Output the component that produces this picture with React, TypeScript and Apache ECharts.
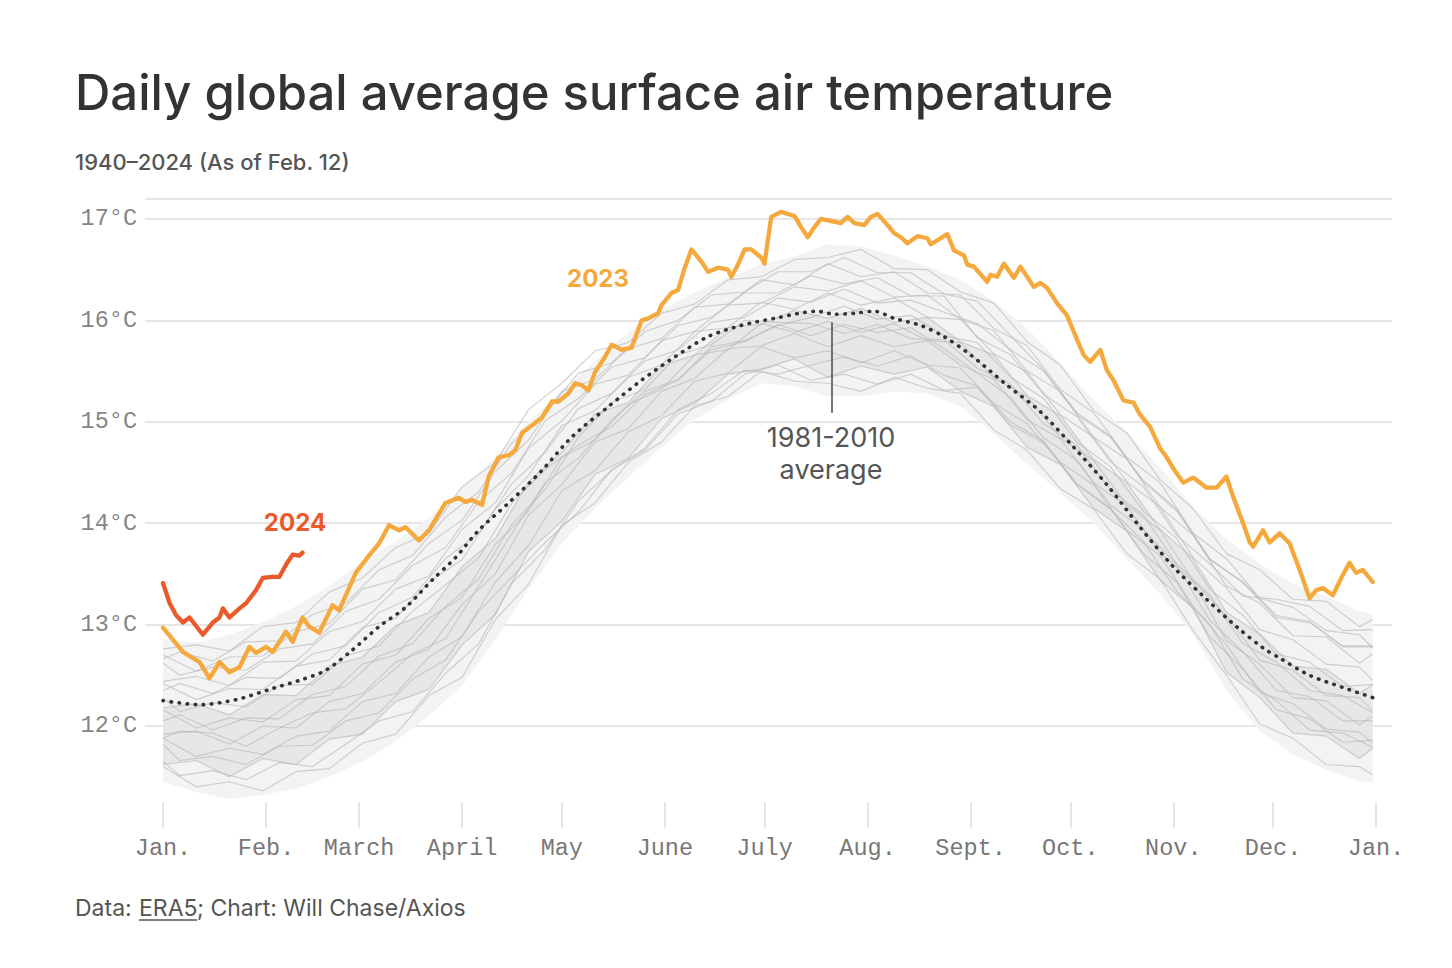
import React, { useEffect, useRef } from "react";
import * as echarts from "echarts";

// ---------- axis data ----------
const monthTickDays = [0, 31, 59, 90, 120, 151, 181, 212, 243, 273, 304, 334, 365];
const monthLabels = ["Jan.", "Feb.", "March", "April", "May", "June", "July", "Aug.", "Sept.", "Oct.", "Nov.", "Dec.", "Jan."];

// ---------- 2024 (day of year, °C) ----------
const year2024: [number, number][] = [
  [0, 13.41], [2, 13.21], [4, 13.09], [6, 13.02], [8, 13.07], [12, 12.9], [15, 13.02], [17, 13.07],
  [18, 13.16], [20, 13.07], [23, 13.16], [25, 13.21], [28, 13.34], [30, 13.46], [33, 13.47], [35, 13.47],
  [37, 13.59], [39, 13.69], [41, 13.68], [42, 13.71],
];

// ---------- 2023 ----------
const year2023: [number, number][] = [
  [0, 12.97], [3, 12.85], [6, 12.73], [11, 12.63], [14, 12.47], [17, 12.63], [20, 12.53], [23, 12.58],
  [26, 12.78], [28, 12.72], [31, 12.78], [33, 12.73], [37, 12.93], [39, 12.83], [42, 13.07], [44, 12.98],
  [47, 12.92], [51, 13.19], [53, 13.14], [58, 13.51], [61, 13.64], [65, 13.8], [68, 13.98], [71, 13.93],
  [73, 13.96], [77, 13.83], [80, 13.93], [85, 14.2], [89, 14.25], [91, 14.21], [93, 14.23], [96, 14.18],
  [98, 14.46], [101, 14.65], [104, 14.67], [106, 14.72], [108, 14.89], [110, 14.94], [114, 15.04], [117, 15.2],
  [119, 15.2], [122, 15.28], [124, 15.38], [126, 15.36], [128, 15.31], [130, 15.49], [133, 15.64], [135, 15.76],
  [138, 15.71], [141, 15.73], [144, 16.0], [146, 16.02], [149, 16.07], [150, 16.15], [153, 16.27], [155, 16.3],
  [157, 16.52], [159, 16.7], [162, 16.58], [164, 16.48], [167, 16.52], [170, 16.5], [171, 16.43], [173, 16.55],
  [175, 16.7], [177, 16.7], [180, 16.62], [181, 16.56], [183, 17.02], [186, 17.07], [190, 17.03], [192, 16.92],
  [194, 16.82], [196, 16.92], [198, 17.0], [204, 16.96], [206, 17.02], [208, 16.96], [211, 16.94], [213, 17.02],
  [215, 17.05], [218, 16.94], [220, 16.86], [222, 16.82], [224, 16.76], [227, 16.83], [230, 16.81], [231, 16.75],
  [233, 16.79], [236, 16.85], [238, 16.69], [241, 16.64], [242, 16.55], [244, 16.53], [248, 16.38], [249, 16.45],
  [251, 16.43], [253, 16.56], [256, 16.42], [258, 16.53], [262, 16.33], [264, 16.37], [266, 16.32], [269, 16.17],
  [272, 16.05], [274, 15.89], [277, 15.66], [279, 15.59], [282, 15.71], [284, 15.51], [286, 15.41], [289, 15.21],
  [292, 15.19], [294, 15.07], [297, 14.95], [300, 14.74], [302, 14.65], [304, 14.54], [307, 14.4], [310, 14.45],
  [314, 14.35], [317, 14.35], [320, 14.46], [322, 14.26], [325, 14.0], [327, 13.81], [328, 13.77], [331, 13.93],
  [333, 13.81], [336, 13.9], [339, 13.8], [342, 13.54], [345, 13.26], [347, 13.34], [349, 13.36], [352, 13.29],
  [355, 13.49], [357, 13.61], [359, 13.51], [361, 13.54], [364, 13.42],
];

// ---------- 1981-2010 average ----------
const average8110: [number, number][] = [
  [0, 12.25], [11, 12.21], [22, 12.26], [33, 12.37], [42, 12.46], [49, 12.55], [57, 12.75], [65, 12.98],
  [73, 13.17], [81, 13.44], [88, 13.66], [95, 13.93], [104, 14.2], [114, 14.52], [123, 14.85], [134, 15.15],
  [144, 15.41], [154, 15.64], [164, 15.84], [174, 15.95], [184, 16.02], [197, 16.09], [202, 16.06], [208, 16.07],
  [214, 16.09], [220, 16.02], [228, 15.95], [235, 15.84], [243, 15.66], [254, 15.36], [264, 15.1], [274, 14.75],
  [284, 14.38], [294, 13.96], [304, 13.57], [314, 13.25], [323, 12.98], [331, 12.77], [336, 12.67], [345, 12.5],
  [355, 12.38], [364, 12.28],
];

// ---------- 1940-2022 gray years (estimated, coarse day grids) ----------
const grayDays = [0, 10, 20, 30, 40, 50, 60, 70, 80, 90, 100, 110, 120, 130, 140, 150, 160, 170, 180, 190, 200, 210, 220, 230, 240, 250, 260, 270, 280, 290, 300, 310, 320, 330, 340, 350, 360, 364];
const grayDaysB = [0, 5, 15, 25, 35, 45, 55, 65, 75, 85, 95, 105, 115, 125, 135, 145, 155, 165, 175, 185, 195, 205, 215, 225, 235, 245, 255, 265, 275, 285, 295, 305, 315, 325, 335, 345, 355, 364];
const bandLow = [11.45, 11.35, 11.28, 11.32, 11.38, 11.5, 11.65, 11.85, 12.1, 12.4, 12.85, 13.35, 13.8, 14.15, 14.45, 14.75, 15.02, 15.22, 15.38, 15.35, 15.25, 15.25, 15.3, 15.28, 15.15, 14.88, 14.58, 14.3, 14.0, 13.65, 13.3, 12.9, 12.35, 11.95, 11.72, 11.57, 11.45, 11.45];
const bandHigh = [12.85, 12.82, 12.9, 13.02, 13.18, 13.38, 13.62, 13.82, 14.05, 14.35, 14.65, 15.0, 15.3, 15.6, 15.88, 16.1, 16.28, 16.42, 16.55, 16.63, 16.75, 16.73, 16.64, 16.53, 16.4, 16.19, 15.92, 15.58, 15.22, 14.9, 14.55, 14.16, 13.84, 13.6, 13.4, 13.28, 13.13, 13.1];

const grayA = [11.6, 11.4, 11.45, 11.36, 11.55, 11.58, 11.83, 11.92, 12.3, 12.48, 13.05, 13.4, 13.98, 14.2, 14.6, 14.8, 15.16, 15.25, 15.5, 15.4, 15.38, 15.3, 15.44, 15.33, 15.28, 14.92, 14.72, 14.34, 14.14, 13.7, 13.45, 12.94, 12.5, 12.02, 11.88, 11.62, 11.6, 11.52];
const grayB = [11.62, 11.66, 11.5, 11.68, 11.62, 11.87, 11.92, 12.24, 12.36, 12.8, 13.1, 13.72, 14.02, 14.48, 14.64, 15.03, 15.18, 15.47, 15.52, 15.62, 15.44, 15.55, 15.47, 15.54, 15.3, 15.15, 14.75, 14.58, 14.15, 13.92, 13.44, 13.16, 12.53, 12.28, 11.93, 11.9, 11.68, 11.78];
const grayC = [11.88, 11.7, 11.78, 11.72, 11.9, 11.95, 12.24, 12.32, 12.68, 12.88, 13.42, 13.78, 14.32, 14.52, 14.9, 15.06, 15.4, 15.48, 15.74, 15.63, 15.7, 15.58, 15.7, 15.56, 15.53, 15.18, 14.98, 14.6, 14.38, 13.93, 13.68, 13.18, 12.8, 12.33, 12.22, 11.97, 11.94, 11.83];
const grayD = [11.92, 11.95, 11.82, 12.0, 11.98, 12.24, 12.32, 12.63, 12.76, 13.2, 13.5, 14.08, 14.38, 14.8, 14.93, 15.3, 15.43, 15.72, 15.75, 15.87, 15.74, 15.85, 15.74, 15.8, 15.56, 15.42, 15.02, 14.83, 14.4, 14.17, 13.71, 13.42, 12.84, 12.61, 12.28, 12.25, 12.01, 12.1];
const grayE = [12.16, 11.98, 12.08, 12.04, 12.26, 12.3, 12.61, 12.7, 13.06, 13.27, 13.79, 14.12, 14.65, 14.82, 15.17, 15.32, 15.66, 15.71, 15.97, 15.88, 15.99, 15.88, 15.97, 15.8, 15.78, 15.43, 15.25, 14.84, 14.62, 14.18, 13.93, 13.43, 13.09, 12.65, 12.55, 12.3, 12.28, 12.15];
const grayF = [12.18, 12.22, 12.11, 12.31, 12.3, 12.59, 12.68, 12.99, 13.12, 13.57, 13.85, 14.41, 14.7, 15.08, 15.19, 15.55, 15.66, 15.93, 15.96, 16.1, 16.02, 16.12, 15.98, 16.03, 15.79, 15.66, 15.26, 15.06, 14.63, 14.4, 13.94, 13.65, 13.12, 12.91, 12.59, 12.56, 12.32, 12.41];
const grayG = [12.42, 12.26, 12.37, 12.36, 12.59, 12.65, 12.97, 13.06, 13.42, 13.64, 14.14, 14.47, 14.96, 15.11, 15.44, 15.56, 15.89, 15.93, 16.18, 16.11, 16.27, 16.15, 16.22, 16.03, 16.01, 15.67, 15.49, 15.07, 14.85, 14.41, 14.16, 13.66, 13.36, 12.95, 12.85, 12.61, 12.58, 12.45];
const grayH = [12.44, 12.49, 12.4, 12.63, 12.64, 12.93, 13.03, 13.35, 13.48, 13.94, 14.2, 14.74, 15.01, 15.37, 15.46, 15.8, 15.89, 16.15, 16.17, 16.33, 16.29, 16.39, 16.23, 16.25, 16.01, 15.9, 15.5, 15.3, 14.85, 14.63, 14.16, 13.88, 13.38, 13.21, 12.89, 12.88, 12.62, 12.71];
const grayI = [12.7, 12.54, 12.68, 12.69, 12.93, 13.01, 13.35, 13.44, 13.8, 14.03, 14.51, 14.82, 15.3, 15.42, 15.72, 15.82, 16.13, 16.16, 16.4, 16.35, 16.56, 16.43, 16.48, 16.27, 16.25, 15.92, 15.75, 15.32, 15.09, 14.65, 14.4, 13.9, 13.65, 13.26, 13.17, 12.94, 12.9, 12.77];
const grayJ = [12.76, 12.8, 12.74, 12.98, 13.02, 13.32, 13.46, 13.76, 13.9, 14.36, 14.6, 15.12, 15.38, 15.7, 15.78, 16.07, 16.16, 16.4, 16.43, 16.6, 16.62, 16.7, 16.51, 16.5, 16.28, 16.17, 15.79, 15.56, 15.11, 14.89, 14.43, 14.14, 13.7, 13.54, 13.25, 13.23, 12.98, 13.05];

const grayK = [11.65, 11.51, 11.56, 11.47, 11.64, 11.6, 11.82, 12.05, 12.14, 12.52, 12.81, 13.41, 13.74, 14.22, 14.52, 14.74, 15.12, 15.28, 15.51, 15.47, 15.56, 15.64, 15.55, 15.65, 15.46, 15.35, 15.0, 14.81, 14.38, 14.14, 13.82, 13.33, 13.0, 12.46, 12.25, 11.96, 11.93, 11.79];
const grayL = [11.88, 11.95, 11.93, 11.8, 11.98, 12.13, 12.17, 12.43, 12.71, 12.86, 13.38, 13.9, 14.4, 14.64, 15.02, 15.3, 15.42, 15.71, 15.79, 15.96, 15.85, 15.96, 15.88, 15.93, 15.72, 15.48, 15.24, 14.84, 14.62, 14.18, 13.94, 13.59, 13.04, 12.73, 12.35, 12.29, 12.05, 12.05];
const grayM = [12.28, 12.14, 12.23, 12.19, 12.4, 12.41, 12.69, 12.79, 13.13, 13.39, 13.66, 14.2, 14.53, 14.77, 14.95, 15.27, 15.41, 15.74, 15.8, 15.95, 16.03, 16.14, 16.01, 16.05, 15.85, 15.78, 15.44, 15.23, 14.8, 14.56, 14.12, 13.85, 13.35, 13.09, 12.71, 12.63, 12.39, 12.41];
const grayN = [12.35, 12.42, 12.32, 12.48, 12.47, 12.71, 12.79, 13.12, 13.27, 13.65, 13.9, 14.39, 14.7, 15.13, 15.28, 15.6, 15.71, 15.98, 16.03, 16.22, 16.18, 16.31, 16.17, 16.2, 16.08, 15.97, 15.71, 15.5, 15.07, 14.85, 14.42, 14.14, 13.65, 13.41, 13.07, 13.02, 12.79, 12.79];
const grayO = [12.62, 12.5, 12.58, 12.55, 12.76, 12.81, 13.13, 13.25, 13.58, 13.76, 14.21, 14.5, 15.01, 15.23, 15.54, 15.63, 15.95, 16.03, 16.27, 16.27, 16.44, 16.36, 16.42, 16.24, 16.24, 15.83, 15.66, 15.27, 15.05, 14.61, 14.36, 13.88, 13.6, 13.28, 13.25, 13.18, 12.94, 12.95];
const grayP = [12.66, 12.73, 12.64, 12.83, 12.84, 13.1, 13.21, 13.54, 13.68, 14.06, 14.31, 14.79, 15.09, 15.48, 15.58, 15.89, 16.0, 16.25, 16.28, 16.48, 16.48, 16.62, 16.47, 16.47, 16.26, 16.19, 15.85, 15.51, 15.09, 14.86, 14.41, 14.12, 13.64, 13.42, 13.09, 13.03, 12.78, 12.78];
const grayQ = [11.82, 11.66, 11.7, 11.62, 11.8, 11.81, 12.05, 12.13, 12.46, 12.65, 13.13, 13.47, 13.81, 14.11, 14.53, 14.72, 15.08, 15.2, 15.47, 15.56, 15.41, 15.47, 15.37, 15.47, 15.31, 15.34, 14.97, 14.79, 14.39, 14.15, 13.7, 13.42, 12.88, 12.56, 12.16, 12.07, 11.84, 11.86];
const grayR = [12.05, 12.11, 11.96, 12.08, 12.07, 12.31, 12.39, 12.69, 12.81, 13.18, 13.45, 13.99, 14.33, 14.85, 15.19, 15.32, 15.66, 15.76, 16.0, 15.98, 15.97, 15.87, 15.96, 15.82, 15.81, 15.53, 15.37, 14.98, 14.77, 14.33, 14.08, 13.6, 13.29, 12.81, 12.63, 12.35, 12.3, 12.13];

const grayYearsOnGridA = [grayA, grayB, grayC, grayD, grayE, grayF, grayG, grayH, grayI, grayJ];
const grayYearsOnGridB = [grayK, grayL, grayM, grayN, grayO, grayP, grayQ, grayR];

// ---------- colours ----------
const C2023 = "#F5A83B";
const C2024 = "#EA5A2A";
const SANS = "Inter, 'Noto Sans', sans-serif";
const MONO = "'Liberation Mono', 'DejaVu Sans Mono', monospace";

export default function App() {
  const ref = useRef<HTMLDivElement>(null);

  useEffect(() => {
    if (!ref.current) return;
    const chart = echarts.init(ref.current, null, { renderer: "svg" });

    const mkGray = (days: number[], vals: number[]) => ({
      type: "line",
      data: days.map((d, i) => [d, vals[i]]),
      symbol: "none",
      silent: true,
      z: 3,
      lineStyle: { color: "#b9b9b9", width: 1.15, opacity: 0.65 },
    });

    const graySeries = [
      ...grayYearsOnGridA.map((v) => mkGray(grayDays, v)),
      ...grayYearsOnGridB.map((v) => mkGray(grayDaysB, v)),
    ];

    const polygonSeries = (lowVals: number[], highVals: number[], fill: string, z: number) => ({
      type: "custom",
      silent: true,
      z,
      data: [[0, 12]],
      renderItem: (_params: any, api: any) => {
        const pts: number[][] = [];
        grayDays.forEach((d, i) => pts.push(api.coord([d, highVals[i]])));
        for (let i = grayDays.length - 1; i >= 0; i--) pts.push(api.coord([grayDays[i], lowVals[i]]));
        return { type: "polygon", shape: { points: pts }, style: { fill } };
      },
    });

    const option: any = {
      animation: false,
      backgroundColor: "#ffffff",
      grid: { left: 145, right: 60, top: 198.7, bottom: 140.6, containLabel: false, outerBoundsMode: "none" },
      xAxis: {
        type: "value",
        min: -5.42,
        max: 369.8,
        axisLine: { show: false },
        splitLine: { show: false },
        axisTick: {
          show: true,
          inside: true,
          length: 25,
          customValues: monthTickDays,
          lineStyle: { color: "#dcdcdc", width: 1.5 },
        },
        axisLabel: {
          customValues: monthTickDays,
          formatter: (v: number) => {
            const i = monthTickDays.indexOf(Math.round(v));
            return i >= 0 ? monthLabels[i] : "";
          },
          fontFamily: MONO,
          fontSize: 23.5,
          color: "#777777",
          margin: 9,
        },
      },
      yAxis: {
        type: "value",
        min: 11,
        max: 17.2,
        interval: 1,
        axisLine: { show: false },
        axisTick: { show: false },
        splitLine: { show: true, showMinLine: false, lineStyle: { color: "#e6e6e6", width: 2 } },
        axisLabel: {
          showMinLabel: false,
          formatter: (v: number) => (v < 11.5 || v > 17.1 ? "" : `${v}°C`),
          fontFamily: MONO,
          fontSize: 23.5,
          color: "#858585",
          margin: 8,
        },
      },
      series: [
        polygonSeries(bandLow, bandHigh, "#f3f3f3", 1),
        polygonSeries(grayB, grayF, "#e7e7e7", 2),
        ...graySeries,
        {
          type: "line",
          data: average8110,
          symbol: "none",
          smooth: 0.3,
          silent: true,
          z: 5,
          lineStyle: { color: "#333333", width: 3.6, type: [0.5, 7.6], cap: "round" },
          markLine: {
            silent: true,
            symbol: ["none", "none"],
            label: { show: false },
            lineStyle: { color: "#555555", width: 1.6, type: "solid" },
            data: [[{ coord: [201.3, 15.98] }, { coord: [201.3, 15.09] }]],
          },
        },
        {
          type: "line",
          data: year2023,
          symbol: "none",
          silent: true,
          z: 6,
          lineStyle: { color: C2023, width: 4.3, join: "round", cap: "round" },
        },
        {
          type: "line",
          data: year2024,
          symbol: "none",
          silent: true,
          z: 7,
          lineStyle: { color: C2024, width: 4.3, join: "round", cap: "round" },
        },
      ],
      graphic: [
        {
          type: "text",
          x: 75,
          y: 92,
          z: 100,
          style: { text: "Daily global average surface air temperature", font: `500 49px ${SANS}`, fill: "#333333", textVerticalAlign: "middle" },
        },
        {
          type: "text",
          x: 75,
          y: 162,
          z: 100,
          style: { text: "1940–2024 (As of Feb. 12)", font: `500 22px ${SANS}`, fill: "#555555", textVerticalAlign: "middle" },
        },
        {
          type: "text",
          x: 598,
          y: 278,
          z: 100,
          style: { text: "2023", font: `700 24px ${SANS}`, fill: C2023, textAlign: "center", textVerticalAlign: "middle" },
        },
        {
          type: "text",
          x: 295,
          y: 522,
          z: 100,
          style: { text: "2024", font: `700 24px ${SANS}`, fill: C2024, textAlign: "center", textVerticalAlign: "middle" },
        },
        {
          type: "text",
          x: 831,
          y: 437,
          z: 100,
          style: { text: "1981-2010", font: `400 27px ${SANS}`, fill: "#555555", textAlign: "center", textVerticalAlign: "middle" },
        },
        {
          type: "text",
          x: 831,
          y: 469,
          z: 100,
          style: { text: "average", font: `400 27px ${SANS}`, fill: "#555555", textAlign: "center", textVerticalAlign: "middle" },
        },
        {
          type: "text",
          x: 75,
          y: 908,
          z: 100,
          style: { text: "Data:", font: `400 23px ${SANS}`, fill: "#555555", textVerticalAlign: "middle" },
        },
        {
          type: "text",
          x: 139,
          y: 908,
          z: 100,
          style: { text: "ERA5", font: `400 23px ${SANS}`, fill: "#555555", textVerticalAlign: "middle" },
        },
        {
          type: "line",
          z: 100,
          shape: { x1: 139, y1: 920, x2: 197, y2: 920 },
          style: { stroke: "#555555", lineWidth: 1.3 },
        },
        {
          type: "text",
          x: 197,
          y: 908,
          z: 100,
          style: { text: "; Chart: Will Chase/Axios", font: `400 23px ${SANS}`, fill: "#555555", textVerticalAlign: "middle" },
        },
      ],
    };

    chart.setOption(option);
    return () => chart.dispose();
  }, []);

  return (
    <div
      ref={ref}
      style={{ position: "fixed", left: 0, top: 0, width: 1452, height: 968, background: "#ffffff" }}
    />
  );
}
